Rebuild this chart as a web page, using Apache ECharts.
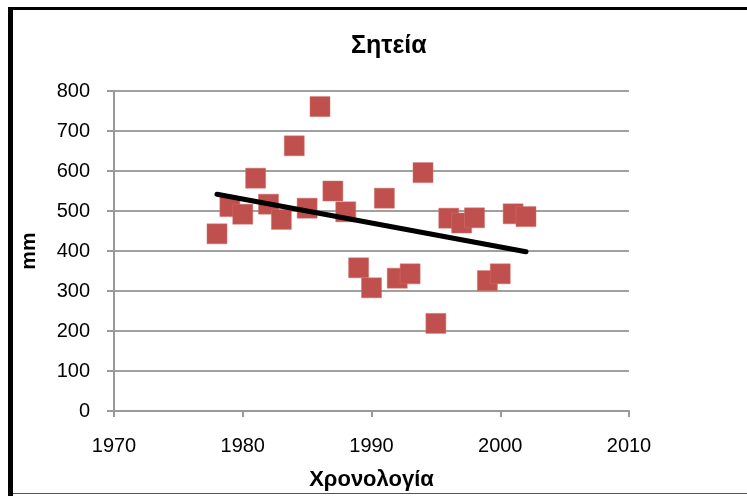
<!DOCTYPE html>
<html>
<head>
<meta charset="utf-8">
<script src="https://cdn.jsdelivr.net/npm/echarts@6/dist/echarts.min.js"></script>
<style>
html,body{margin:0;padding:0;background:#fff;}
#chart{width:747px;height:496px;}
</style>
</head>
<body>
<div id="chart"></div>
<script>
var years = [1978,1979,1980,1981,1982,1983,1984,1985,1986,1987,1988,1989,1990,1991,1992,1993,1994,1995,1996,1997,1998,1999,2000,2001,2002];
var rain = [443,511,492,582,517,479,663,507,761,550,498,358,308,532,332,343,596,219,482,470,483,326,343,493,486];
var trendYears = [1978, 2002];
var trendValues = [542, 398];
var xTicks = [1970, 2010, 10];
var yTicks = [0, 800, 100];
var titleText = 'Σητεία';
var xName = 'Χρονολογία';
var yName = 'mm';

var scatterData = years.map(function(y, i){ return [y, rain[i]]; });
var trendData = trendYears.map(function(y, i){ return [y, trendValues[i]]; });

var chart = echarts.init(document.getElementById('chart'), null, {renderer:'canvas'});
var FONT = '"Liberation Sans", Arial, sans-serif';
chart.setOption({
  animation: false,
  backgroundColor: '#ffffff',
  title: {
    text: titleText,
    left: 346,
    top: 29,
    textStyle: {fontFamily: FONT, fontSize: 25, fontWeight: 'bold', color: '#000'}
  },
  grid: {left: 114, right: 118, top: 91, bottom: 85, containLabel: false},
  xAxis: {
    type: 'value',
    min: xTicks[0], max: xTicks[1], interval: xTicks[2],
    name: xName,
    nameLocation: 'middle',
    nameGap: 58,
    nameTextStyle: {fontFamily: FONT, fontSize: 22, fontWeight: 'bold', color: '#000'},
    axisLine: {show: true, lineStyle: {color: '#999', width: 2}},
    axisTick: {show: true, inside: false, length: 6, lineStyle: {color: '#999', width: 2}},
    axisLabel: {fontFamily: FONT, fontSize: 20, color: '#000', margin: 25,
      formatter: function(v){ return String(v); }},
    splitLine: {show: false}
  },
  yAxis: {
    type: 'value',
    min: yTicks[0], max: yTicks[1], interval: yTicks[2],
    name: yName,
    nameLocation: 'middle',
    nameGap: 74,
    nameRotate: 90,
    nameTextStyle: {fontFamily: FONT, fontSize: 21, fontWeight: 'bold', color: '#000'},
    axisLine: {show: true, lineStyle: {color: '#999', width: 2}},
    axisTick: {show: true, inside: false, length: 7, lineStyle: {color: '#999', width: 2}},
    axisLabel: {fontFamily: FONT, fontSize: 20, color: '#000', margin: 24},
    splitLine: {show: true, lineStyle: {color: '#a0a0a0', width: 2}}
  },
  series: [
    {
      type: 'scatter',
      data: scatterData,
      symbol: 'rect',
      symbolSize: 20,
      itemStyle: {color: '#C0504D', borderColor: '#d0716e', borderWidth: 0.5, opacity: 1},
      z: 2
    },
    {
      type: 'line',
      data: trendData,
      showSymbol: false,
      symbol: 'none',
      lineStyle: {color: '#000', width: 5, cap: 'round'},
      z: 3
    }
  ],
  graphic: [
    {type: 'rect', shape: {x: 8, y: 7, width: 739, height: 3}, style: {fill: '#000'}, z: 100},
    {type: 'rect', shape: {x: 8, y: 7, width: 5, height: 489}, style: {fill: '#000'}, z: 100},
    {type: 'rect', shape: {x: 13, y: 493, width: 734, height: 1}, style: {fill: '#555'}, z: 100}
  ]
});
</script>
</body>
</html>
